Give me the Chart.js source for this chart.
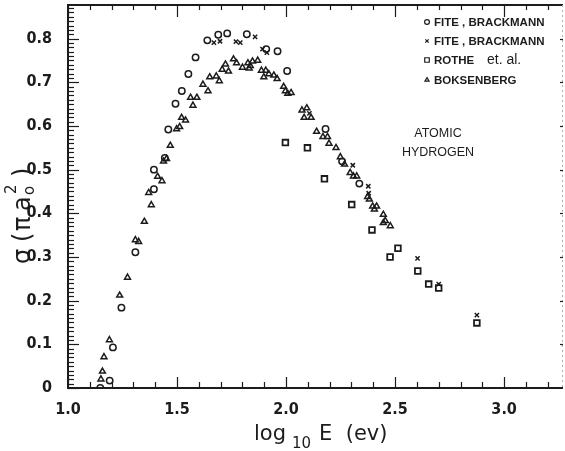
<!DOCTYPE html>
<html>
<head>
<meta charset="utf-8">
<script src="https://cdn.jsdelivr.net/npm/chart.js@4"></script>
<style>
  body { margin: 0; background: #fff; }
  canvas { display: block; }
</style>
</head>
<body>
<canvas id="crossSection" width="565" height="451"></canvas>
<script>
// log10 E (eV) and sigma (pi a0^2) for each data set
const fiteCircleLogE = [1.148, 1.191, 1.206, 1.245, 1.309, 1.394, 1.394, 1.444, 1.460, 1.493, 1.522, 1.552, 1.585, 1.639, 1.689, 1.730, 1.820, 1.909, 1.961, 2.005, 2.181, 2.257, 2.336];
const fiteCircleSigma = [0.000, 0.017, 0.093, 0.184, 0.311, 0.455, 0.500, 0.527, 0.592, 0.651, 0.680, 0.719, 0.757, 0.796, 0.809, 0.812, 0.810, 0.776, 0.771, 0.726, 0.593, 0.519, 0.468];

const fiteCrossLogE = [1.669, 1.697, 1.770, 1.790, 1.858, 1.892, 1.912, 2.107, 2.306, 2.377, 2.379, 2.603, 2.700, 2.875];
const fiteCrossSigma = [0.791, 0.794, 0.793, 0.791, 0.804, 0.776, 0.768, 0.629, 0.510, 0.462, 0.446, 0.297, 0.238, 0.167];

const rotheLogE = [1.997, 2.098, 2.176, 2.301, 2.394, 2.477, 2.513, 2.604, 2.654, 2.700, 2.875];
const rotheSigma = [0.562, 0.550, 0.479, 0.420, 0.362, 0.300, 0.320, 0.268, 0.238, 0.229, 0.149];

const boksenbergLogE = [1.151, 1.158, 1.165, 1.190, 1.237, 1.273, 1.309, 1.324, 1.350, 1.370, 1.382, 1.411, 1.431, 1.438, 1.452, 1.469, 1.498, 1.512, 1.521, 1.539, 1.562, 1.573, 1.591, 1.619, 1.642, 1.650, 1.680, 1.694, 1.707, 1.722, 1.736, 1.759, 1.773, 1.800, 1.825, 1.831, 1.836, 1.846, 1.870, 1.887, 1.907, 1.898, 1.921, 1.944, 1.959, 1.989, 1.997, 2.008, 2.023, 2.073, 2.095, 2.083, 2.115, 2.140, 2.169, 2.190, 2.197, 2.229, 2.249, 2.268, 2.294, 2.309, 2.324, 2.374, 2.382, 2.397, 2.415, 2.405, 2.446, 2.455, 2.446, 2.478];
const boksenbergSigma = [0.020, 0.038, 0.071, 0.110, 0.212, 0.253, 0.339, 0.335, 0.381, 0.447, 0.419, 0.484, 0.474, 0.519, 0.525, 0.555, 0.593, 0.598, 0.619, 0.613, 0.665, 0.647, 0.665, 0.695, 0.680, 0.712, 0.714, 0.703, 0.729, 0.741, 0.725, 0.753, 0.744, 0.734, 0.744, 0.732, 0.738, 0.748, 0.750, 0.727, 0.727, 0.712, 0.719, 0.716, 0.708, 0.690, 0.680, 0.674, 0.676, 0.636, 0.641, 0.619, 0.619, 0.587, 0.575, 0.575, 0.560, 0.550, 0.529, 0.512, 0.493, 0.485, 0.485, 0.438, 0.432, 0.416, 0.416, 0.409, 0.397, 0.383, 0.378, 0.371];

const legendLabels = ['FITE , BRACKMANN', 'FITE , BRACKMANN', 'ROTHE', 'BOKSENBERG'];

const ink = '#1c1c1c';
const tickFont = { family: "'Liberation Sans Narrow', 'DejaVu Sans Condensed', 'Liberation Sans', Arial, sans-serif", size: 16, weight: 'bold' };

function toPoints(xs, ys) {
  return xs.map((x, i) => ({ x: x, y: ys[i] }));
}

const markers = [
  { pointStyle: 'circle', radius: 3.2, borderWidth: 1.5 },
  { pointStyle: 'crossRot', radius: 3, borderWidth: 1.5 },
  { pointStyle: 'rect', radius: 4, borderWidth: 1.8 },
  { pointStyle: 'triangle', radius: 3.4, borderWidth: 1.5 }
];

const series = [
  toPoints(fiteCircleLogE, fiteCircleSigma),
  toPoints(fiteCrossLogE, fiteCrossSigma),
  toPoints(rotheLogE, rotheSigma),
  toPoints(boksenbergLogE, boksenbergSigma)
];

const datasets = series.map((pts, i) => ({
  label: legendLabels[i],
  data: pts,
  pointStyle: markers[i].pointStyle,
  pointRadius: markers[i].radius,
  pointBorderWidth: markers[i].borderWidth,
  pointBorderColor: ink,
  pointBackgroundColor: 'rgba(0,0,0,0)',
  showLine: false
}));

// keep tick labels from pushing the plot area inwards
function fixSize(prop, size) {
  return s => {
    s[prop] = size;
    s.paddingTop = s.paddingBottom = s.paddingLeft = s.paddingRight = 0;
  };
}

// frame, inward ticks, legend, annotation and axis titles
const decorations = {
  id: 'decorations',
  afterDraw(chart) {
    const ctx = chart.ctx;
    const xs = chart.scales.x, ys = chart.scales.y;
    const a = chart.chartArea;
    ctx.save();
    ctx.strokeStyle = ink;
    ctx.lineCap = 'butt';

    // frame
    ctx.lineWidth = 2;
    ctx.beginPath();
    ctx.moveTo(a.right, a.top); ctx.lineTo(a.left, a.top);
    ctx.lineTo(a.left, a.bottom); ctx.lineTo(a.right, a.bottom);
    ctx.stroke();
    ctx.lineWidth = 1;
    ctx.strokeStyle = '#b0b0b0';
    ctx.setLineDash([2, 3]);
    ctx.beginPath();
    ctx.moveTo(a.right - 0.5, a.top); ctx.lineTo(a.right - 0.5, a.bottom);
    ctx.stroke();
    ctx.setLineDash([]);
    ctx.strokeStyle = ink;

    // y ticks every 0.01 on the left, every 0.1 on the right
    ctx.lineWidth = 1.2;
    for (let k = 0; k <= 87; k++) {
      const py = Math.round(ys.getPixelForValue(k / 100)) + 0.5;
      const len = k % 10 === 0 ? 11 : 6;
      ctx.beginPath();
      ctx.moveTo(a.left, py); ctx.lineTo(a.left + len, py);
      ctx.stroke();
      if (k % 10 === 0 && k > 0) {
        ctx.beginPath();
        ctx.moveTo(a.right, py); ctx.lineTo(a.right - 3, py);
        ctx.stroke();
      }
    }

    // x ticks every 0.1, bottom and top
    for (let k = 10; k <= 32; k++) {
      const px = Math.round(xs.getPixelForValue(k / 10)) + 0.5;
      const len = k % 5 === 0 ? 11 : 6;
      ctx.beginPath();
      ctx.moveTo(px, a.bottom); ctx.lineTo(px, a.bottom - len);
      ctx.moveTo(px, a.top); ctx.lineTo(px, a.top + (k % 5 === 0 ? 12 : 5));
      ctx.stroke();
    }

    // legend
    ctx.textBaseline = 'middle';
    const rowsY = [22, 41, 60, 80];
    rowsY.forEach((y, i) => {
      ctx.lineWidth = 1.2;
      ctx.fillStyle = 'rgba(0,0,0,0)';
      Chart.helpers.drawPoint(ctx, {
        pointStyle: markers[i].pointStyle,
        radius: i === 2 ? 3.2 : 2.4,
        rotation: 0,
        borderWidth: 1.2
      }, 427, y);
      ctx.fillStyle = ink;
      ctx.font = "bold 11.5px 'Liberation Sans', Arial, sans-serif";
      ctx.textAlign = 'left';
      ctx.fillText(legendLabels[i], 434, y + 0.5);
    });
    ctx.font = "14px 'Liberation Sans', Arial, sans-serif";
    ctx.fillText('et. al.', 487, rowsY[2]);

    // annotation
    ctx.font = "12.5px 'Liberation Sans', Arial, sans-serif";
    ctx.textAlign = 'center';
    ctx.fillText('ATOMIC', 438, 134);
    ctx.fillText('HYDROGEN', 438, 153);

    // x title: log10 E (ev)
    ctx.textAlign = 'left';
    ctx.textBaseline = 'alphabetic';
    const big = "21px 'DejaVu Sans', sans-serif";
    const small = "15px 'DejaVu Sans', sans-serif";
    let x = 254;
    ctx.font = big; ctx.fillText('log', x, 440); x += ctx.measureText('log').width + 6;
    ctx.font = small; ctx.fillText('10', x, 448); x += ctx.measureText('10').width + 8;
    ctx.font = big; ctx.fillText('E  (ev)', x, 440);

    // y title: sigma (pi a0^2), set piece by piece
    ctx.save();
    ctx.translate(30, 264);
    ctx.rotate(-Math.PI / 2);
    const yBig = "24px 'DejaVu Sans', sans-serif";
    const ySmall = "15px 'DejaVu Sans', sans-serif";
    ctx.font = yBig;
    ctx.fillText('σ', 0, 0);
    ctx.fillText('(', 22, 0);
    ctx.fillText('π', 33, 0);
    ctx.fillText('a', 53, 0);
    ctx.fillText(')', 87, 0);
    ctx.font = ySmall;
    ctx.fillText('o', 69, 4);
    ctx.fillText('2', 70, -14);
    ctx.restore();

    ctx.restore();
  }
};

new Chart(document.getElementById('crossSection').getContext('2d'), {
  type: 'scatter',
  data: { datasets: datasets },
  options: {
    responsive: false,
    animation: false,
    layout: { autoPadding: false, padding: { top: 5, right: 2, left: 0, bottom: 0 } },
    plugins: { legend: { display: false }, tooltip: { enabled: false } },
    scales: {
      x: {
        type: 'linear',
        min: 1.0,
        max: 3.27,
        border: { display: false },
        grid: { display: false },
        afterFit: fixSize('height', 63),
        ticks: {
          stepSize: 0.1,
          autoSkip: false,
          maxRotation: 0,
          padding: 4,
          color: ink,
          font: tickFont,
          callback: v => Math.abs(v * 2 - Math.round(v * 2)) < 1e-6 ? v.toFixed(1) : ''
        }
      },
      y: {
        type: 'linear',
        min: 0,
        max: 0.877,
        border: { display: false },
        grid: { display: false },
        afterFit: fixSize('width', 68),
        ticks: {
          stepSize: 0.1,
          autoSkip: false,
          padding: 8,
          color: ink,
          font: tickFont,
          callback: v => {
            if (Math.abs(v * 10 - Math.round(v * 10)) > 1e-6) return '';
            return v < 1e-6 ? '0' : v.toFixed(1);
          }
        }
      }
    }
  },
  plugins: [decorations]
});
</script>
</body>
</html>
